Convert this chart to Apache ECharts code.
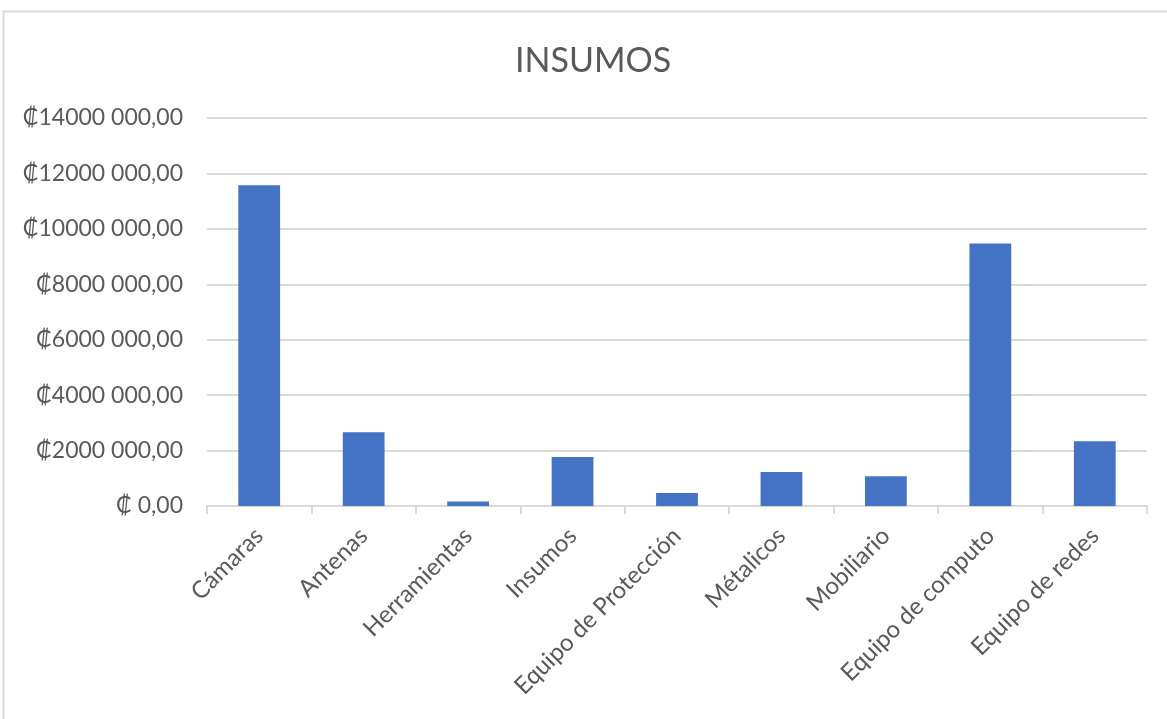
<!DOCTYPE html>
<html>
<head>
<meta charset="utf-8">
<script src="https://cdn.jsdelivr.net/npm/echarts@6/dist/echarts.min.js"></script>
<style>
html,body{margin:0;padding:0;background:#fff;}
#chart{width:1167px;height:719px;}
</style>
</head>
<body>
<div id="chart"></div>
<script>
const categories = ['Cámaras','Antenas','Herramientas','Insumos','Equipo de Protección','Métalicos','Mobiliario','Equipo de computo','Equipo de redes'];
const values = [11570000, 2660000, 160000, 1770000, 470000, 1230000, 1070000, 9470000, 2340000];
const yTickValues = [0, 2000000, 4000000, 6000000, 8000000, 10000000, 12000000, 14000000];
const yTickLabels = ['₡ 0,00','₡2000 000,00','₡4000 000,00','₡6000 000,00','₡8000 000,00','₡10000 000,00','₡12000 000,00','₡14000 000,00'];
const titleText = 'INSUMOS';

const chart = echarts.init(document.getElementById('chart'));
const font = 'Lato, "Noto Sans", sans-serif';
chart.setOption({
  animation: false,
  backgroundColor: '#fff',
  graphic: [{
    type: 'polyline',
    shape: { points: [[3.5, 719], [3.5, 11.5], [1167, 11.5]] },
    style: { stroke: '#d9d9d9', lineWidth: 2, fill: null },
    silent: true
  }],
  title: {
    text: titleText,
    left: 510,
    top: 39,
    textStyle: { fontFamily: font, fontSize: 34, fontWeight: 'normal', color: '#595959' }
  },
  grid: { left: 207, right: 20, top: 118, bottom: 213, containLabel: false },
  xAxis: {
    type: 'category',
    data: categories,
    axisLine: { lineStyle: { color: '#d9d9d9', width: 2 } },
    axisTick: { show: true, length: 8, lineStyle: { color: '#d9d9d9', width: 2 } },
    axisLabel: {
      rotate: 45,
      interval: 0,
      margin: 26,
      fontFamily: font,
      fontSize: 24,
      color: '#595959'
    },
    splitLine: { show: false }
  },
  yAxis: {
    type: 'value',
    min: 0,
    max: 14000000,
    interval: 2000000,
    axisLine: { show: false },
    axisTick: { show: false },
    splitLine: { lineStyle: { color: '#d9d9d9', width: 2 } },
    axisLabel: {
      margin: 24,
      fontFamily: font,
      fontSize: 23,
      color: '#595959',
      formatter: function (v) {
        const i = yTickValues.indexOf(v);
        return i >= 0 ? yTickLabels[i] : '';
      }
    }
  },
  series: [{
    type: 'bar',
    data: values,
    barWidth: '40%',
    itemStyle: { color: '#4472C4' }
  }]
});
</script>
</body>
</html>
